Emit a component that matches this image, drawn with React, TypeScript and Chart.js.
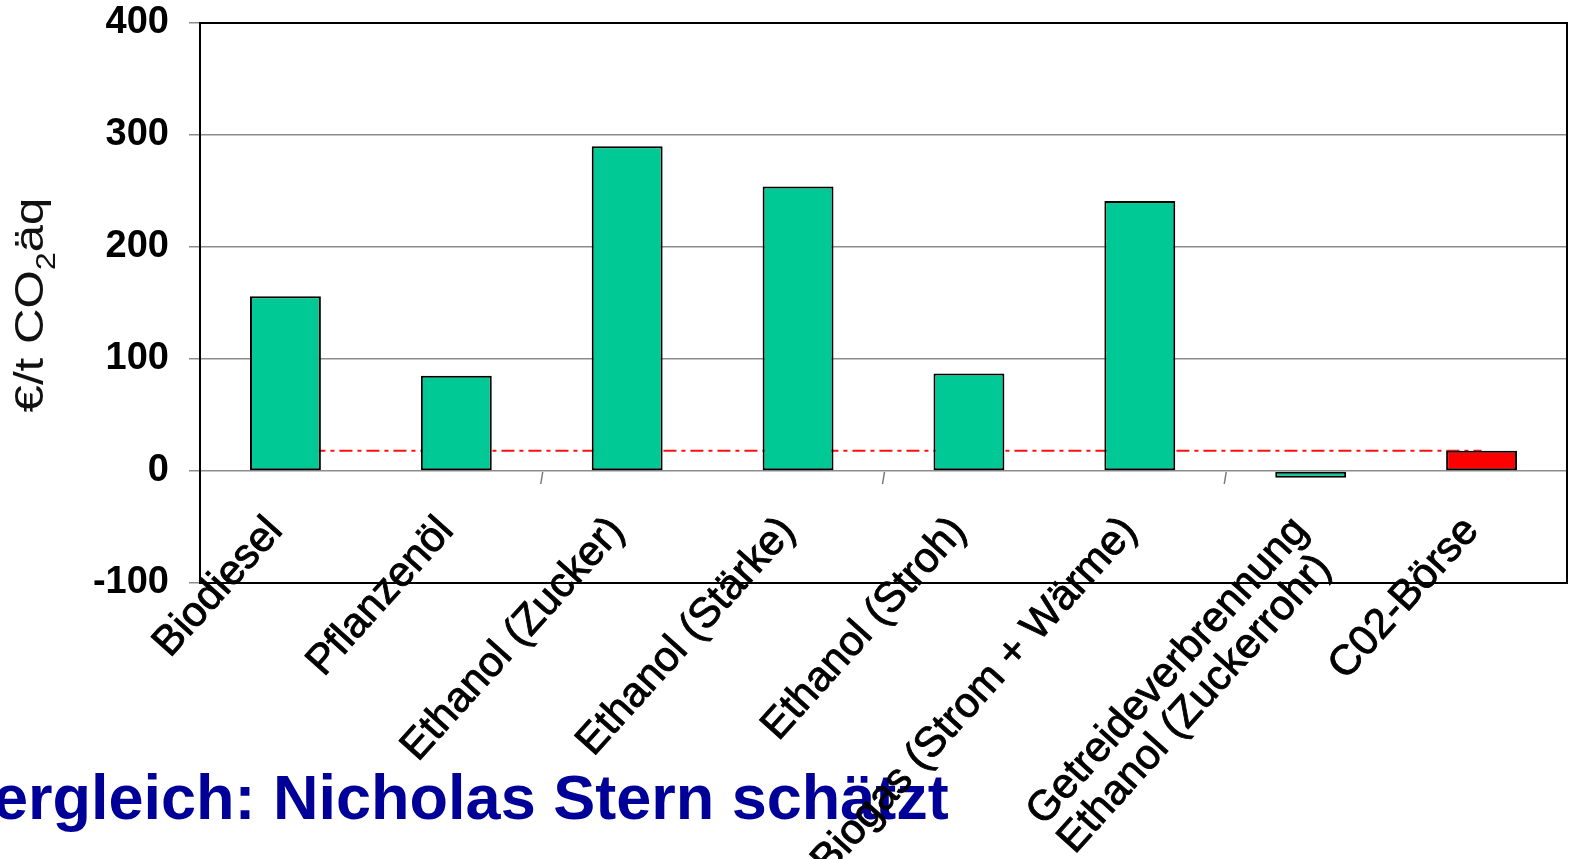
import React, { useEffect, useRef } from "react";
import { Chart, registerables } from "chart.js";

Chart.register(...registerables);

// ---- data ----
const categories: string[][] = [
  ["Biodiesel"],
  ["Pflanzenöl"],
  ["Ethanol (Zucker)"],
  ["Ethanol (Stärke)"],
  ["Ethanol (Stroh)"],
  ["Biogas (Strom + Wärme)"],
  ["Getreideverbrennung", "Ethanol (Zuckerrohr)"],
  ["C02-Börse"],
];
const costValues = [156, 85, 290, 254, 87, 241, -6, 18];
const co2MarketPrice = 18;
const referenceLine = categories.map(() => co2MarketPrice);
const yMin = -100;
const yMax = 400;
const yStep = 100;
const yTitleMain = "€/t CO";
const yTitleSub = "2";
const yTitleEnd = "äq";
const footnote = "ergleich: Nicholas Stern schätzt";

// ---- style ----
const GREEN = "#00C996";
const RED = "#FF0000";
const FONT = "'Liberation Sans', Arial, sans-serif";
const LABEL_ANGLE = (48 * Math.PI) / 180;

const overlayPlugin = {
  id: "overlay",
  afterDraw(chart: any) {
    const ctx: CanvasRenderingContext2D = chart.ctx;
    const { left, right, top, bottom } = chart.chartArea;
    const xs = chart.scales.x;
    const ys = chart.scales.y;
    const y0 = ys.getPixelForValue(0);
    ctx.save();

    // frame
    ctx.strokeStyle = "#000";
    ctx.lineWidth = 2;
    ctx.strokeRect(left, top, right - left, bottom - top);

    // small category separator ticks under zero line
    ctx.strokeStyle = "#7a7a7a";
    ctx.lineWidth = 1.5;
    [1, 3, 5].forEach((i) => {
      const xm = (xs.getPixelForValue(i) + xs.getPixelForValue(i + 1)) / 2;
      ctx.beginPath();
      ctx.moveTo(xm + 1, y0 + 1);
      ctx.lineTo(xm - 1, y0 + 13);
      ctx.stroke();
    });

    // footnote (blue)
    ctx.fillStyle = "#000099";
    ctx.font = `bold 63px ${FONT}`;
    ctx.textAlign = "left";
    ctx.textBaseline = "alphabetic";
    ctx.fillText(footnote, -7, 819);

    // x labels
    ctx.fillStyle = "#000";
    ctx.strokeStyle = "#000";
    ctx.lineWidth = 0.9;
    ctx.font = `42px ${FONT}`;
    categories.forEach((lines, i) => {
      const cx = xs.getPixelForValue(i);
      ctx.save();
      ctx.translate(cx - 10, y0 + 53);
      ctx.rotate(-LABEL_ANGLE);
      ctx.textAlign = "right";
      ctx.textBaseline = "middle";
      lines.forEach((t, j) => {
        ctx.fillText(t, j * -12, j * 42);
        ctx.strokeText(t, j * -12, j * 42);
      });
      ctx.restore();
    });

    // y title with subscript
    ctx.save();
    ctx.translate(43, 305);
    ctx.rotate(-Math.PI / 2);
    ctx.scale(1.2, 1);
    ctx.fillStyle = "#111";
    ctx.textAlign = "left";
    ctx.textBaseline = "alphabetic";
    const big = `41px ${FONT}`;
    const small = `27px ${FONT}`;
    ctx.font = big;
    const w1 = ctx.measureText(yTitleMain).width;
    const w3 = ctx.measureText(yTitleEnd).width;
    ctx.font = small;
    const w2 = ctx.measureText(yTitleSub).width;
    const total = w1 + w2 + w3;
    let x = -total / 2;
    ctx.font = big;
    ctx.fillText(yTitleMain, x, 0);
    x += w1;
    ctx.font = small;
    ctx.fillText(yTitleSub, x, 12);
    x += w2;
    ctx.font = big;
    ctx.fillText(yTitleEnd, x, 0);
    ctx.restore();

    ctx.restore();
  },
};

export default function App() {
  const canvasRef = useRef<HTMLCanvasElement | null>(null);

  useEffect(() => {
    const canvas = canvasRef.current;
    if (!canvas) return;
    const chart = new Chart(canvas, {
      type: "bar",
      data: {
        labels: categories.map((c) => c.join(" ")),
        datasets: [
          {
            type: "bar",
            data: costValues,
            backgroundColor: costValues.map((_, i) => (i === categories.length - 1 ? RED : GREEN)),
            borderColor: "#000",
            borderWidth: 2,
            borderSkipped: false,
            barPercentage: 0.415,
            categoryPercentage: 1,
            order: 1,
          } as any,
          {
            type: "line",
            data: referenceLine,
            borderColor: "#FF1010",
            borderWidth: 2,
            borderDash: [13, 5, 4, 5],
            pointRadius: 0,
            fill: false,
            order: 2,
          } as any,
        ],
      },
      options: {
        responsive: false,
        animation: false,
        devicePixelRatio: 1,
        layout: { padding: { left: 0, top: 23, right: 4, bottom: 276 } },
        plugins: {
          legend: { display: false },
          tooltip: { enabled: false },
          title: { display: false },
        },
        scales: {
          x: {
            type: "category",
            display: false,
            offset: true,
          },
          y: {
            min: yMin,
            max: yMax,
            afterFit: (scale: any) => {
              scale.width = 200;
              scale.paddingTop = 0;
              scale.paddingBottom = 0;
            },
            ticks: {
              stepSize: yStep,
              color: "#000",
              padding: 20,
              font: { family: FONT, size: 38, weight: "bold" },
            },
            grid: {
              color: "#8c8c8c",
              lineWidth: 1.5,
              tickLength: 11,
              drawTicks: true,
            },
            border: { display: false },
          },
        },
      },
      plugins: [overlayPlugin],
    });
    return () => chart.destroy();
  }, []);

  return (
    <div style={{ position: "fixed", left: 0, top: 0, width: 1571, height: 859, background: "#fff" }}>
      <canvas ref={canvasRef} width={1571} height={859} style={{ display: "block" }} />
    </div>
  );
}
